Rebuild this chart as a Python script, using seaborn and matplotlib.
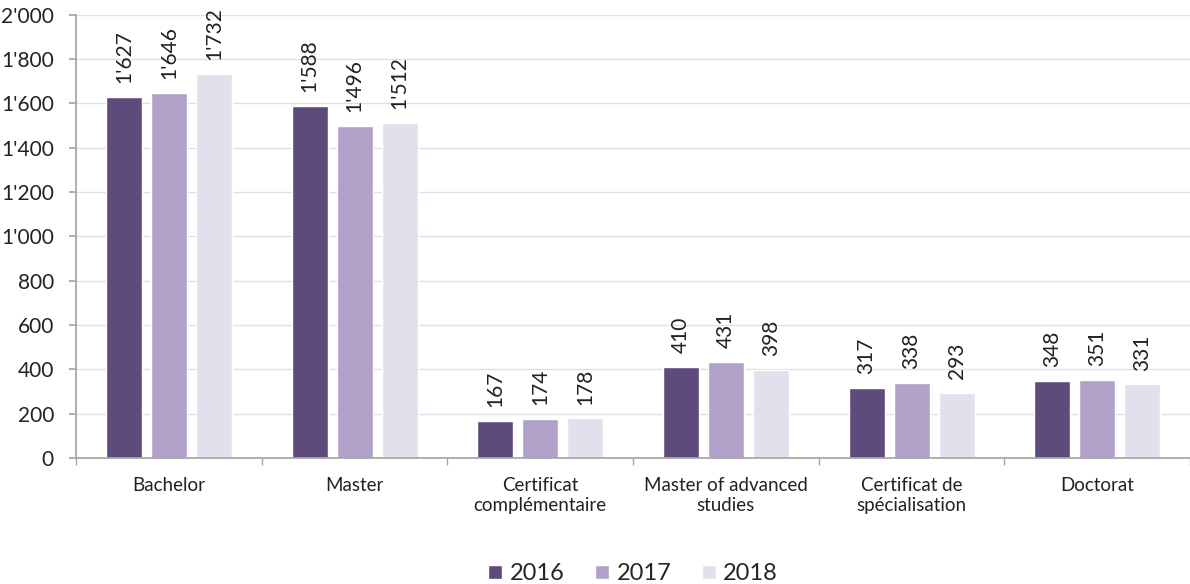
import matplotlib
matplotlib.use("Agg")
import matplotlib.pyplot as plt
import seaborn as sns
import pandas as pd
from matplotlib.ticker import FuncFormatter, FixedLocator

categories = ["Bachelor", "Master", "Certificat\ncomplémentaire", "Master of advanced\nstudies",
              "Certificat de\nspécialisation", "Doctorat"]
years = ["2016", "2017", "2018"]
v2016 = [1627, 1588, 167, 410, 317, 348]
v2017 = [1646, 1496, 174, 431, 338, 351]
v2018 = [1732, 1512, 178, 398, 293, 331]
colors = ["#5f4a7c", "#b1a0c8", "#e4dfec"]

rows = []
for y, vals in zip(years, [v2016, v2017, v2018]):
    for c, v in zip(categories, vals):
        rows.append({"cat": c, "year": y, "value": v})
df = pd.DataFrame(rows)

sns.set_theme(style="white")
plt.rcParams["font.family"] = ["Lato", "DejaVu Sans"]

fig = plt.figure(figsize=(11.9, 5.84), dpi=100)
ax = fig.add_axes([0.064, 0.216, 0.936, 0.759])

sns.barplot(data=df, x="cat", y="value", hue="year", palette=colors, width=0.727,
            gap=0.2, ax=ax, saturation=1, errorbar=None, legend=True)

def fmt(v):
    return f"{int(v):,}".replace(",", "'")

FS_TXT = 13.5
FS_NUM = 15
for cont in ax.containers:
    for bar in cont:
        h = bar.get_height()
        ax.annotate(fmt(h), (bar.get_x() + bar.get_width() / 2, h), xytext=(0, 10),
                    textcoords="offset points", rotation=90,
                    ha="center", va="bottom", fontsize=FS_NUM, color="#222222")

ax.set_ylim(0, 2000)
ax.set_xlim(-0.5, 5.5)
ax.set_yticks(range(0, 2001, 200))
ax.yaxis.set_major_formatter(FuncFormatter(lambda v, p: fmt(v)))
ax.grid(axis="y", color="#e1ddea", linewidth=1)
ax.set_axisbelow(True)
for s in ["top", "right"]:
    ax.spines[s].set_visible(False)
for s in ["left", "bottom"]:
    ax.spines[s].set_color("#a6a6a6")
ax.set_xlabel("")
ax.set_ylabel("")
ax.tick_params(axis="y", left=True, length=5, color="#a6a6a6", labelsize=FS_NUM, labelcolor="#222222", pad=11)
ax.tick_params(axis="x", bottom=False, labelsize=FS_TXT, labelcolor="#222222", pad=8)
ax.xaxis.set_minor_locator(FixedLocator([i - 0.5 for i in range(7)]))
ax.tick_params(axis="x", which="minor", bottom=True, length=5, color="#a6a6a6")

ax.legend(loc="upper center", bbox_to_anchor=(0.5, -0.19), ncol=3, frameon=False,
          fontsize=17, handlelength=0.6, handleheight=0.6, columnspacing=1.3, handletextpad=0.3)

fig.savefig("out.png", dpi=100)
